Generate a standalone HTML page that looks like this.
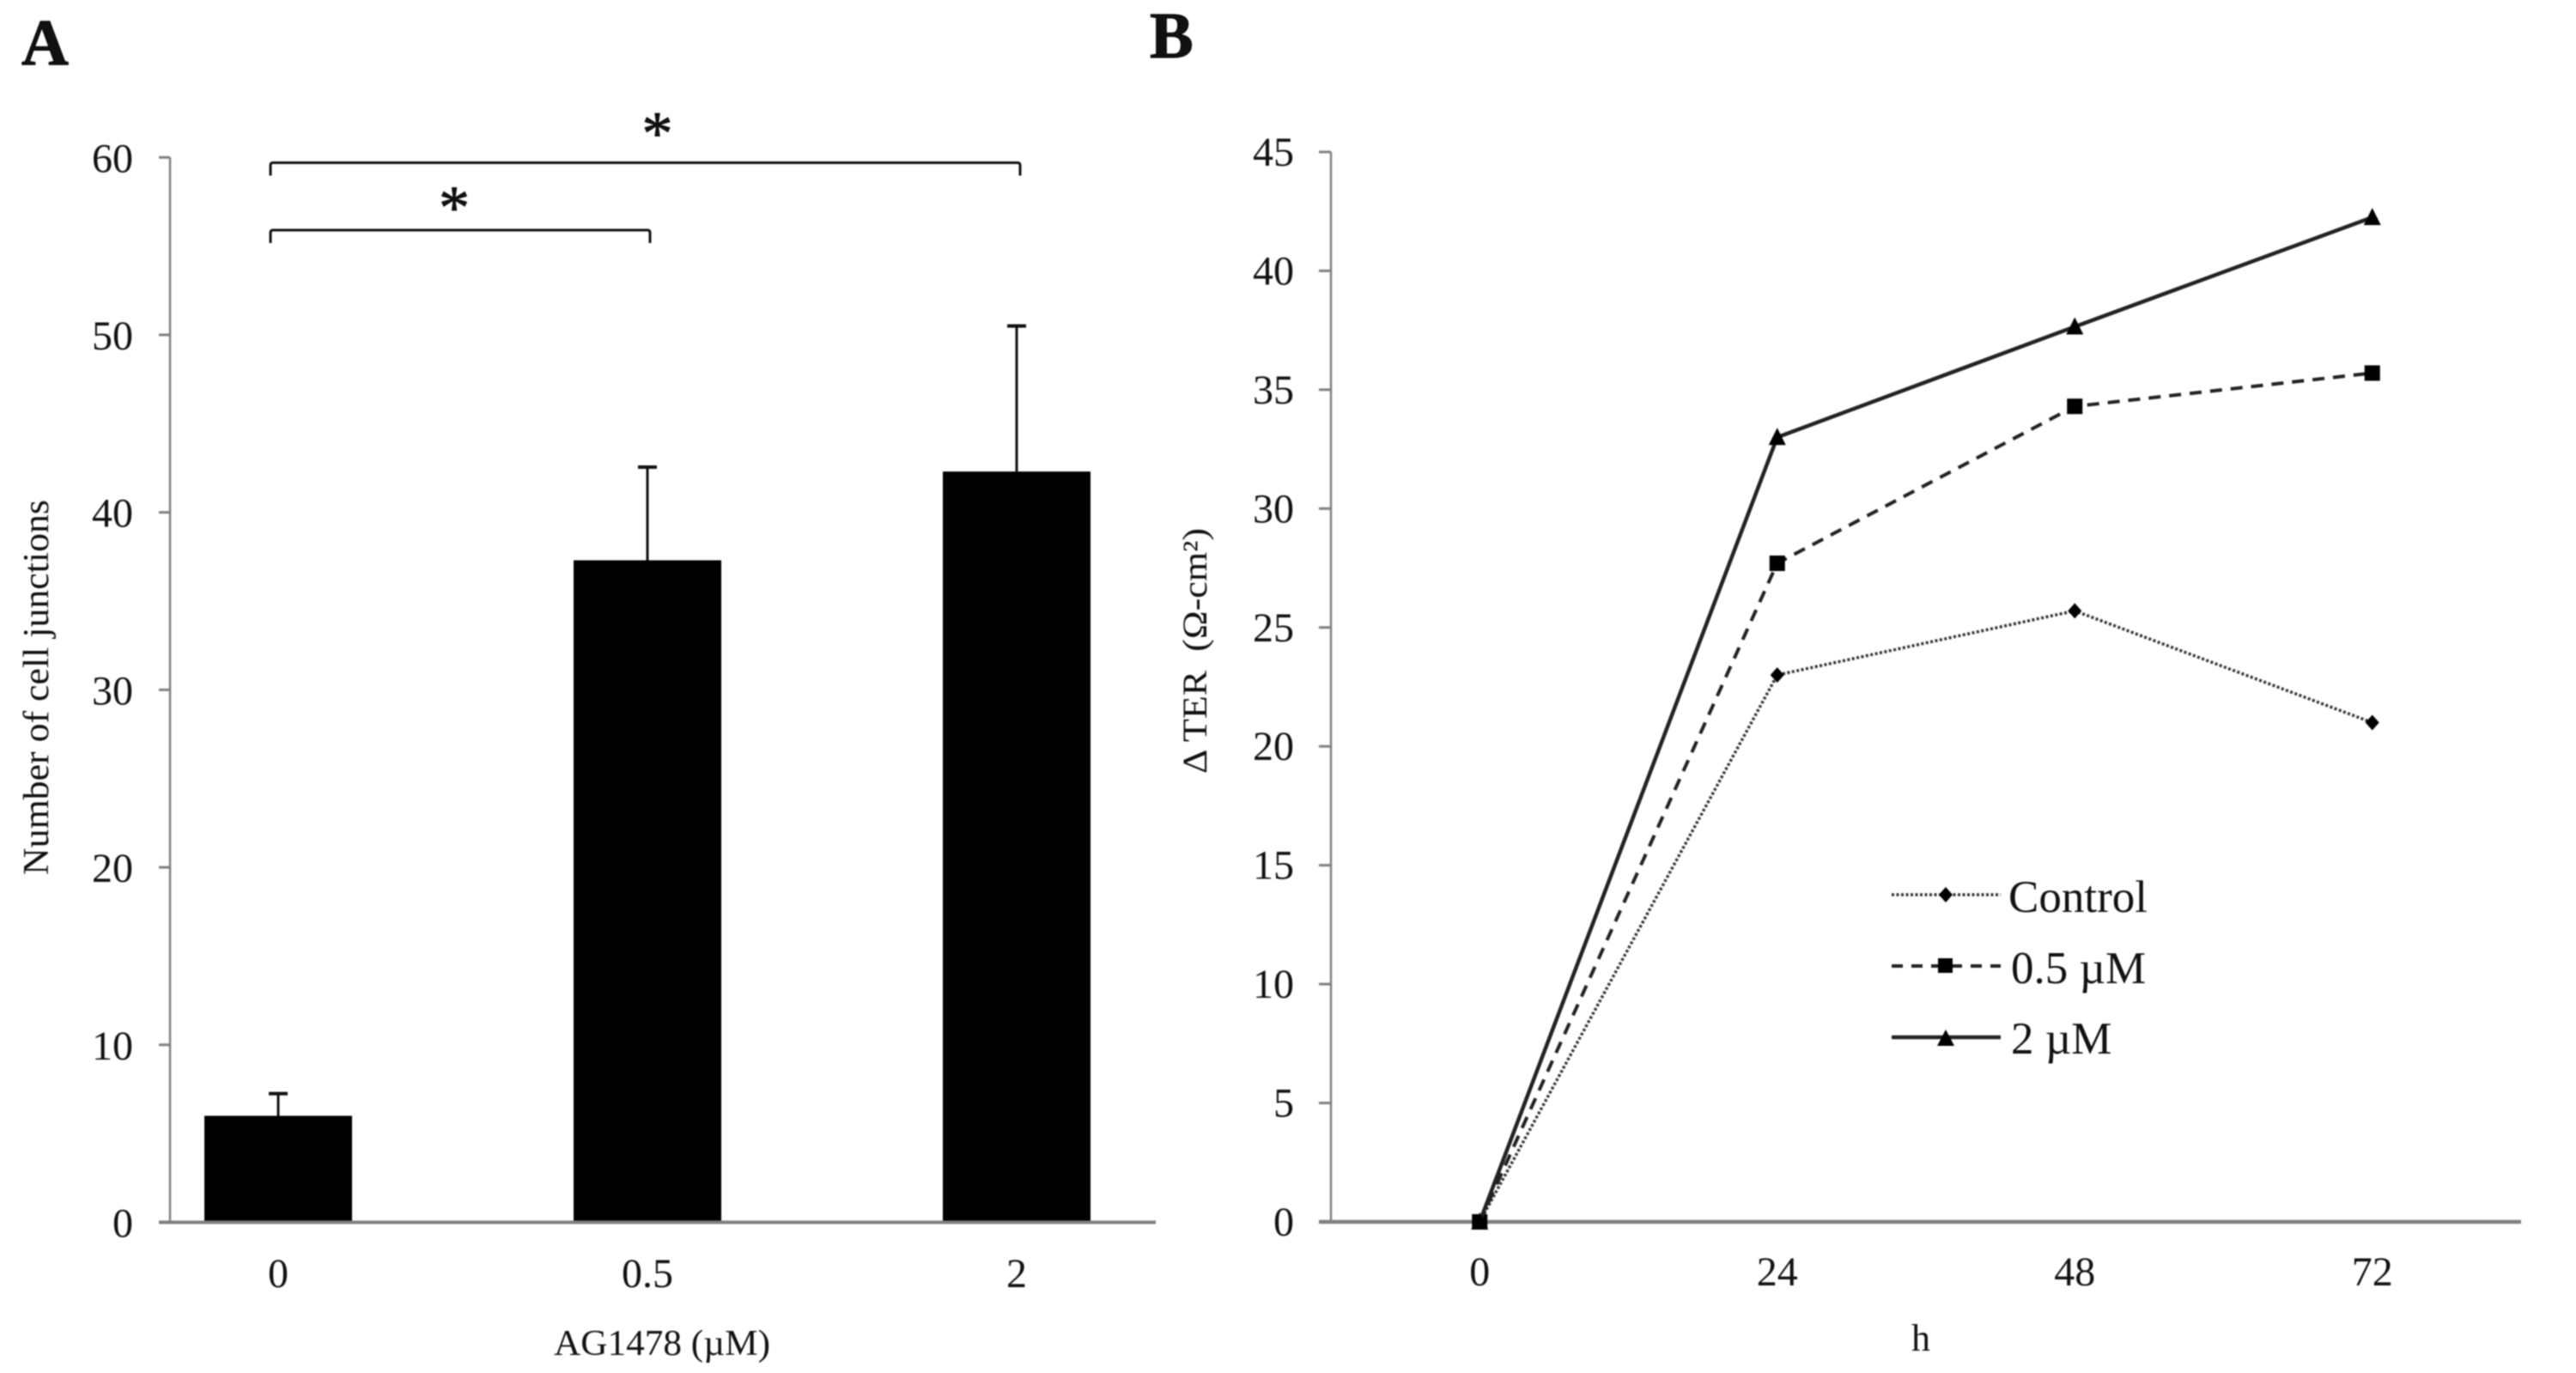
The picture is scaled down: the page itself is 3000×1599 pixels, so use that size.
<!DOCTYPE html>
<html lang="en">
<head>
<meta charset="utf-8">
<title>Cell junctions and TER charts</title>
<style>
html,body{margin:0;padding:0;background:#fff;width:3000px;height:1599px;overflow:hidden}
svg{display:block;filter:blur(0.8px)}
text{font-family:"Liberation Serif","DejaVu Serif",serif;fill:#111}
</style>
</head>
<body>
<svg id="figure" xmlns="http://www.w3.org/2000/svg" width="3000" height="1599" viewBox="0 0 3000 1599">
  <rect x="0" y="0" width="3000" height="1599" fill="#fff"/>
  <text x="25" y="75" font-size="76" font-weight="bold" fill="#000" stroke="#000" stroke-width="1">A</text>
  <text x="1339" y="67" font-size="76" font-weight="bold" fill="#000" stroke="#000" stroke-width="1">B</text>
  <g id="chartA"></g>
  <g id="chartB"></g>
  <text x="771" y="1578" font-size="42" text-anchor="middle" textLength="252" lengthAdjust="spacingAndGlyphs">AG1478 (µM)</text>
  <text transform="translate(56,1019) rotate(-90)" font-size="42" textLength="437" lengthAdjust="spacingAndGlyphs">Number of cell junctions</text>
  <text x="2237" y="1573" font-size="44" text-anchor="middle">h</text>
  <text transform="translate(1405,901) rotate(-90)" font-size="40" textLength="286" lengthAdjust="spacingAndGlyphs" xml:space="preserve">Δ TER  (Ω-cm²)</text>
  <g>
    <g>
      <line x1="2203" y1="1042" x2="2330" y2="1042" stroke="#333" stroke-width="3.5" stroke-dasharray="3 2.5"/>
      <polygon points="2266,1033 2274,1042 2266,1051 2258,1042" fill="#000"/>
      <text x="2339" y="1062" font-size="53">Control</text>
    </g>
    <g>
      <line x1="2203" y1="1125" x2="2330" y2="1125" stroke="#222" stroke-width="4" stroke-dasharray="13 10"/>
      <rect x="2257" y="1116" width="17" height="17" fill="#000"/>
      <text x="2342" y="1145" font-size="53">0.5 µM</text>
    </g>
    <g>
      <line x1="2203" y1="1208" x2="2330" y2="1208" stroke="#222" stroke-width="4.5"/>
      <polygon points="2266,1199 2276,1218 2256,1218" fill="#000"/>
      <text x="2342" y="1227" font-size="53">2 µM</text>
    </g>
  </g>
</svg>
<script>
// ---- Chart A data ----
const barCategories = ['0', '0.5', '2'];
const barMeans = [6.0, 37.3, 42.3];
const barErrors = [1.25, 5.25, 8.2];
const barTickLabels = [0, 10, 20, 30, 40, 50, 60];
const bracketLevels = [59.7, 55.9];
const bracketLabels = ['*', '*'];

// ---- Chart B data ----
const lineCategories = ['0', '24', '48', '72'];
const controlValues = [0, 23.0, 25.7, 21.0];
const halfMicroValues = [0, 27.7, 34.3, 35.7];
const twoMicroValues = [0, 33.0, 37.65, 42.25];
const lineTickLabels = [0, 5, 10, 15, 20, 25, 30, 35, 40, 45];

const NS = 'http://www.w3.org/2000/svg';
const AXIS = '#808080';
function make(tag, attrs, parent, txt) {
  const n = document.createElementNS(NS, tag);
  for (const k in attrs) n.setAttribute(k, attrs[k]);
  if (txt !== undefined) n.textContent = txt;
  parent.appendChild(n);
  return n;
}

// Axis functions
const yA = v => 1423.5 - v * 20.67;
const xA = i => 324 + 430 * i;
const yB = v => 1423 - v * 27.69;
const xB = i => 1550 + 346.5 * (i + 0.5);

// ---- Draw chart A ----
const chartA = document.getElementById('chartA');
const axisAY = make('line', {x1: 198, y1: yA(60), x2: 198, y2: yA(0), stroke: AXIS, 'stroke-width': 2.5}, chartA);


barTickLabels.forEach(t => {
  const tick = make('line', {x1: 185, y1: yA(t), x2: 198, y2: yA(t), stroke: AXIS, 'stroke-width': 3}, chartA);
  
  
  const lab = make('text', {x: 155, y: yA(t) + 17, 'font-size': 48, 'text-anchor': 'end'}, chartA, String(t));
  
  
});
barCategories.forEach((c, i) => {
  const bar = make('rect', {x: xA(i) - 86, y: yA(barMeans[i]), width: 172, height: yA(0) - yA(barMeans[i]), fill: '#000'}, chartA);
  
  
  const top = yA(barMeans[i] + barErrors[i]);
  const stem = make('line', {x1: xA(i), y1: yA(barMeans[i]), x2: xA(i), y2: top, stroke: '#111', 'stroke-width': 3}, chartA);
  
  
  const cap = make('line', {x1: xA(i) - 11, y1: top, x2: xA(i) + 11, y2: top, stroke: '#111', 'stroke-width': 4}, chartA);
  
  
  const lab = make('text', {x: xA(i), y: 1499, 'font-size': 48, 'text-anchor': 'middle'}, chartA, c);
  
  
});
const axisAX = make('line', {x1: 185, y1: yA(0), x2: 1346, y2: yA(0), stroke: AXIS, 'stroke-width': 4}, chartA);



// Significance brackets: first spans bar 0..2, second bar 0..1
bracketLevels.forEach((lv, k) => {
  const endIdx = 2 - k;
  const x0 = xA(0) - 9;
  const x1 = xA(endIdx) + (endIdx === 2 ? 4 : 3);
  const y = yA(lv);
  const br = make('path', {d: 'M' + x0 + ' ' + (y + 15) + 'V' + (y + 3) + 'Q' + x0 + ' ' + y + ' ' + (x0 + 3) + ' ' + y + 'H' + (x1 - 3) + 'Q' + x1 + ' ' + y + ' ' + x1 + ' ' + (y + 3) + 'V' + (y + 15), fill: 'none', stroke: '#111', 'stroke-width': 3}, chartA);
  
  
  const star = make('text', {x: (x0 + x1) / 2 + (k === 0 ? 14 : -7), y: y + (k === 0 ? -10 : -2), 'font-size': 72, 'text-anchor': 'middle', fill: '#000', stroke: '#000', 'stroke-width': 0.8}, chartA, bracketLabels[k]);
  
  
});

// ---- Draw chart B ----
const chartB = document.getElementById('chartB');
const axisBY = make('line', {x1: 1550, y1: yB(45), x2: 1550, y2: yB(0), stroke: AXIS, 'stroke-width': 2.5}, chartB);


lineTickLabels.forEach(t => {
  const tick = make('line', {x1: 1536, y1: yB(t), x2: 1550, y2: yB(t), stroke: AXIS, 'stroke-width': 3}, chartB);
  
  
  const lab = make('text', {x: 1507, y: yB(t) + 16, 'font-size': 48, 'text-anchor': 'end'}, chartB, String(t));
  
  
});
const axisBX = make('line', {x1: 1536, y1: yB(0), x2: 2936, y2: yB(0), stroke: AXIS, 'stroke-width': 4.5}, chartB);


lineCategories.forEach((c, i) => {
  const lab = make('text', {x: xB(i), y: 1497, 'font-size': 48, 'text-anchor': 'middle'}, chartB, c);
  
  
});

function pathOf(vals) {
  return vals.map((v, i) => (i ? 'L' : 'M') + xB(i) + ' ' + yB(v)).join('');
}

const lineControl = make('path', {d: pathOf(controlValues), fill: 'none', stroke: '#333', 'stroke-width': 3.5, 'stroke-dasharray': '3 2.5'}, chartB);


controlValues.forEach((v, i) => {
  const x = xB(i), y = yB(v);
  const m = make('polygon', {points: x + ',' + (y - 9) + ' ' + (x + 8) + ',' + y + ' ' + x + ',' + (y + 9) + ' ' + (x - 8) + ',' + y, fill: '#000'}, chartB);
  
  
});

const lineHalf = make('path', {d: pathOf(halfMicroValues), fill: 'none', stroke: '#222', 'stroke-width': 4, 'stroke-dasharray': '14 10'}, chartB);


halfMicroValues.forEach((v, i) => {
  const m = make('rect', {x: xB(i) - 9, y: yB(v) - 9, width: 18, height: 18, fill: '#000'}, chartB);
  
  
});

const lineTwo = make('path', {d: pathOf(twoMicroValues), fill: 'none', stroke: '#222', 'stroke-width': 4.5}, chartB);


twoMicroValues.forEach((v, i) => {
  const x = xB(i), y = yB(v);
  const m = make('polygon', {points: x + ',' + (y - 11) + ' ' + (x + 10) + ',' + (y + 9) + ' ' + (x - 10) + ',' + (y + 9), fill: '#000'}, chartB);
  
  
});
</script>
</body>
</html>
